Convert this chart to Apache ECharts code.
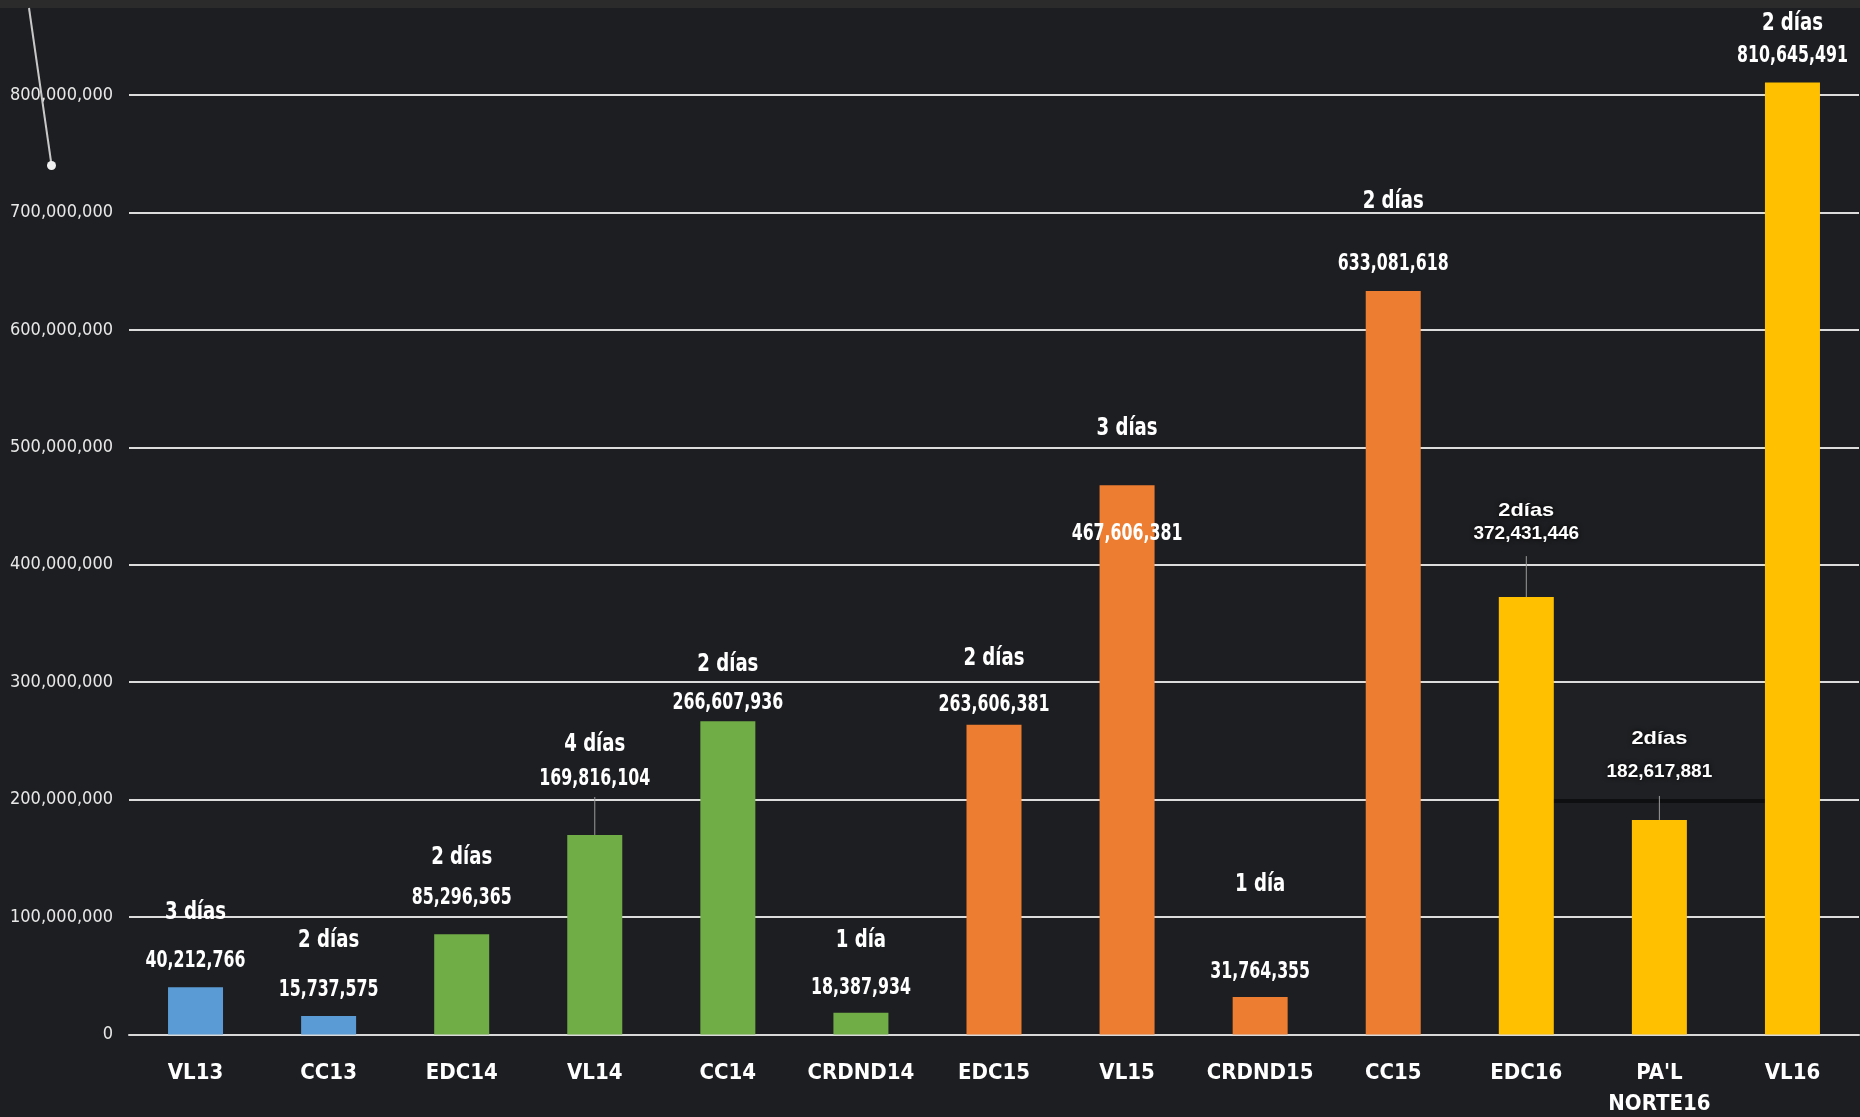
<!DOCTYPE html>
<html>
<head>
<meta charset="utf-8">
<script src="https://cdn.jsdelivr.net/npm/echarts@6/dist/echarts.min.js"></script>
<style>
html,body{margin:0;padding:0;background:#1d1e21;}
#c{width:1860px;height:1117px;}
</style>
</head>
<body>
<div id="c"></div>
<script>
// ---- data ----
const categories = ['VL13','CC13','EDC14','VL14','CC14','CRDND14','EDC15','VL15','CRDND15','CC15','EDC16',"PA'L\nNORTE16",'VL16'];
const values = [40212766,15737575,85296365,169816104,266607936,18387934,263606381,467606381,31764355,633081618,372431446,182617881,810645491];
const dayLabels = ['3 días','2 días','2 días','4 días','2 días','1 día','2 días','3 días','1 día','2 días','2días','2días','2 días'];
const groups = ['13','13','14','14','14','14','15','15','15','15','16','16','16'];
const yTickLabels = ['0','100,000,000','200,000,000','300,000,000','400,000,000','500,000,000','600,000,000','700,000,000','800,000,000','900,000,000'];

// ---- styles (label placement relative to bar top, in px) ----
const groupColors = {'13':'#5b9bd5','14':'#70ad47','15':'#ed7d31','16':'#ffc000'};
const dayOffset   = [75,76,77,91,57,72,66,57,113,90,86,81,59];
const valueOffset = [26,26,36,56,18,25,20,-49,25,27,63,48,26];
const connector   = [0,0,0,38,0,0,0,0,0,0,41,24,0];
const wideStyle   = [false,false,false,false,false,false,false,false,false,false,true,true,false];

const fmt = v => v.toLocaleString('en-US');
const NARROW = "'Liberation Sans Narrow','Arial Narrow','DejaVu Sans Condensed',sans-serif";
const WIDE = "'Liberation Sans',Arial,sans-serif";

const chart = echarts.init(document.getElementById('c'), null, {renderer:'canvas'});

const option = {
  backgroundColor: '#1d1e21',
  animation: false,
  grid: {left: 129, right: 1, top: -22.4, bottom: 82.6, containLabel: false, outerBoundsMode: 'none'},
  xAxis: {
    type: 'category',
    data: categories,
    axisLine: {show: true, lineStyle: {color: '#d8d8d8', width: 2}},
    axisTick: {show: false},
    axisLabel: {
      color: '#ffffff', fontFamily: NARROW, fontWeight: 'bold', fontSize: 22,
      lineHeight: 31, margin: 23, interval: 0
    },
    splitLine: {show: false}
  },
  yAxis: {
    type: 'value',
    min: 0, max: 900000000, interval: 100000000,
    axisLine: {show: false},
    axisTick: {show: false},
    axisLabel: {
      color: '#e8e8e8', fontFamily: NARROW, fontSize: 18, margin: 16,
      formatter: v => yTickLabels[Math.round(v / 100000000)]
    },
    splitLine: {show: true, lineStyle: {color: '#dcdcdc', width: 2}}
  },
  graphic: [
    {type:'rect', z: 1, shape:{x:1553, y:684, width:212, height:117}, style:{fill:'#1f2023'}},
    {type:'rect', z: 1, shape:{x:1553, y:799, width:212, height:4}, style:{fill:'#0e0f11'}},
    {type:'rect', z: 100, shape:{x:0, y:0, width:1860, height:8}, style:{fill:'#2b2b2c'}},
    {type:'line', z: 100, shape:{x1:29, y1:8, x2:51.5, y2:165}, style:{stroke:'#c8c8c8', lineWidth:2}},
    {type:'circle', z: 100, shape:{cx:51.5, cy:165.5, r:4.5}, style:{fill:'#f0f0f0'}}
  ],
  series: [
    {
      type: 'bar',
      z: 2,
      barWidth: 55,
      data: values.map((v, i) => ({value: v, itemStyle: {color: groupColors[groups[i]]}})),
      label: {show: false}
    },
    {
      type: 'custom',
      z: 5,
      clip: false,
      data: values.map((v, i) => [i, v]),
      encode: {x: 0, y: 1},
      renderItem: function (params, api) {
        const i = params.dataIndex;
        const p = api.coord([api.value(0), api.value(1)]);
        const wide = wideStyle[i];
        const shadow = wide ? {shadowBlur: 5, shadowColor: 'rgba(0,0,0,0.9)', textShadowBlur: 5, textShadowColor: 'rgba(0,0,0,0.9)'} : {};
        const children = [
          {
            type: 'text', x: p[0], y: p[1] - dayOffset[i],
            scaleX: wide ? 1.15 : 0.79,
            style: Object.assign({
              text: dayLabels[i], fill: '#ffffff',
              font: wide ? ('bold 19px ' + WIDE) : ('bold 25.5px ' + NARROW),
              align: 'center', verticalAlign: 'middle',
              textAlign: 'center', textVerticalAlign: 'middle'
            }, shadow)
          },
          {
            type: 'text', x: p[0], y: p[1] - valueOffset[i],
            scaleX: wide ? 1.0 : 0.78,
            style: Object.assign({
              text: fmt(values[i]), fill: '#ffffff',
              font: wide ? ('bold 19px ' + WIDE) : ('bold 22.5px ' + NARROW),
              align: 'center', verticalAlign: 'middle',
              textAlign: 'center', textVerticalAlign: 'middle'
            }, shadow)
          }
        ];
        if (connector[i] > 0) {
          children.push({
            type: 'line',
            shape: {x1: p[0], y1: p[1] - connector[i], x2: p[0], y2: p[1]},
            style: {stroke: '#9a9a9a', lineWidth: 1}
          });
        }
        return {type: 'group', children: children};
      }
    }
  ]
};
chart.setOption(option);
</script>
</body>
</html>
